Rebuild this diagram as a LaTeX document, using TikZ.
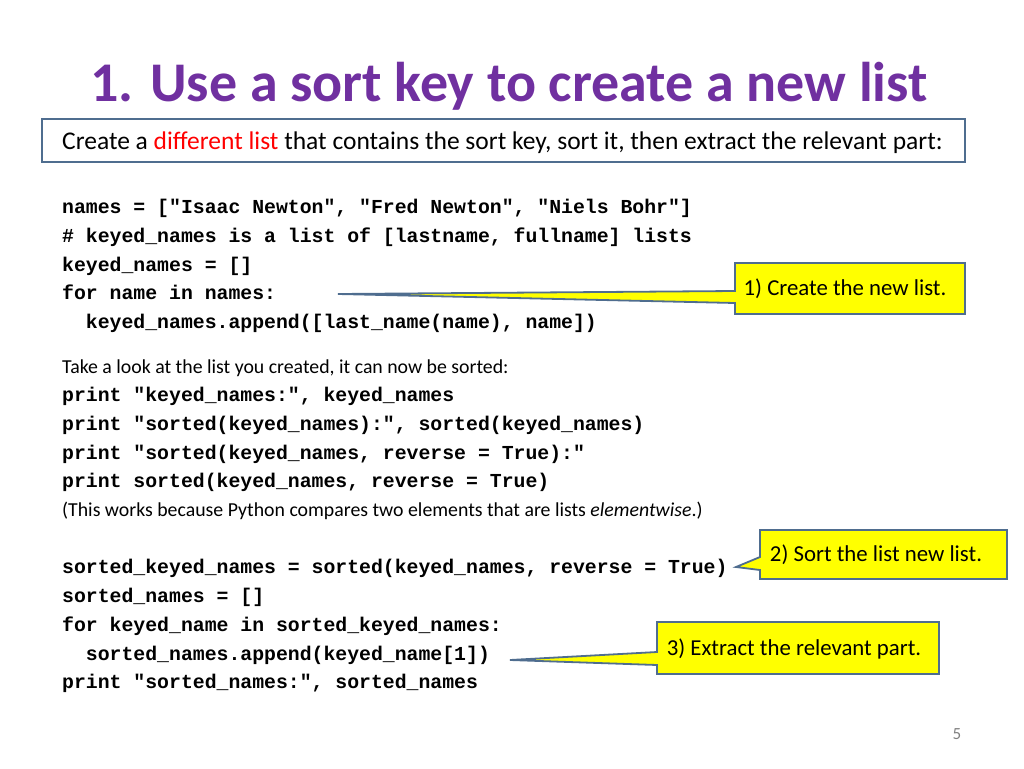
\documentclass[tikz,border=0pt]{standalone}
\usepackage{fontspec}
\setmainfont{Carlito}
\setmonofont{Liberation Mono}
\definecolor{ttl}{HTML}{7030A0}
\definecolor{frm}{HTML}{4F6D8F}
\definecolor{yel}{HTML}{FFFF00}
\begin{document}
\begin{tikzpicture}[x=1pt,y=-1pt,
  code/.style={anchor=base west,inner sep=0pt,font=\fontsize{19.8}{22}\selectfont\ttfamily\bfseries},
  txt/.style={anchor=base west,inner sep=0pt,font=\fontsize{19.8}{22}\selectfont},
  callout/.style={fill=yel,draw=frm,line width=1.8pt,line join=miter},
  ctext/.style={anchor=center,inner sep=0pt,font=\fontsize{22.8}{26}\selectfont}]
\useasboundingbox (0,0) rectangle (1024,768);
\node[anchor=base west,inner sep=0pt,text=ttl,font=\fontsize{56}{60}\selectfont\bfseries] (title) at (90,101) {1. Use a sort key to create a new list};
\draw[frm,line width=2pt] (42,119) rectangle (965,162);
\node[anchor=base west,inner sep=0pt,font=\fontsize{25.5}{28}\selectfont] (sub) at (62,149) {Create a \textcolor{red}{different list} that contains the sort key, sort it, then extract the relevant part:};
\node[code] (c1) at (62,213) {names = ["Isaac Newton", "Fred Newton", "Niels Bohr"]};
\node[code] (c2) at (62,242) {\# keyed\_names is a list of [lastname, fullname] lists};
\node[code] (c3) at (62,271) {keyed\_names = []};
\node[code] (c4) at (62,299) {for name in names:};
\node[code] (c5) at (62,328) {\ \ keyed\_names.append([last\_name(name), name])};
\node[txt] (t1) at (62,373) {Take a look at the list you created, it can now be sorted:};
\node[code] (c6) at (62,401) {print "keyed\_names:", keyed\_names};
\node[code] (c7) at (62,430) {print "sorted(keyed\_names):", sorted(keyed\_names)};
\node[code] (c8) at (62,459) {print "sorted(keyed\_names, reverse = True):"};
\node[code] (c9) at (62,487) {print sorted(keyed\_names, reverse = True)};
\node[txt] (t2) at (62,516) {(This works because Python compares two elements that are lists \emph{elementwise}.)};
\node[code] (c10) at (62,573) {sorted\_keyed\_names = sorted(keyed\_names, reverse = True)};
\node[code] (c11) at (62,602) {sorted\_names = []};
\node[code] (c12) at (62,631) {for keyed\_name in sorted\_keyed\_names:};
\node[code] (c13) at (62,660) {\ \ sorted\_names.append(keyed\_name[1])};
\node[code] (c14) at (62,688) {print "sorted\_names:", sorted\_names};
% callouts
\draw[callout] (735,263) -- (965,263) -- (965,314) -- (735,314) -- (735,303) -- (338,294) -- (735,291) -- cycle;
\node[ctext] (k1) at (845,289) {1) Create the new list.};
\draw[callout] (760,530) -- (1007,530) -- (1007,579) -- (760,579) -- (760,570) -- (736,567) -- (760,557) -- cycle;
\node[ctext] (k2) at (876,555) {2) Sort the list new list.};
\draw[callout] (657,622) -- (939,622) -- (939,674) -- (657,674) -- (657,665) -- (510,660) -- (657,652) -- cycle;
\node[ctext] (k3) at (794,649) {3) Extract the relevant part.};
\node[anchor=base,inner sep=0pt,text=gray,font=\fontsize{17}{19}\selectfont] (pg) at (957,739) {5};
\end{tikzpicture}
\end{document}
